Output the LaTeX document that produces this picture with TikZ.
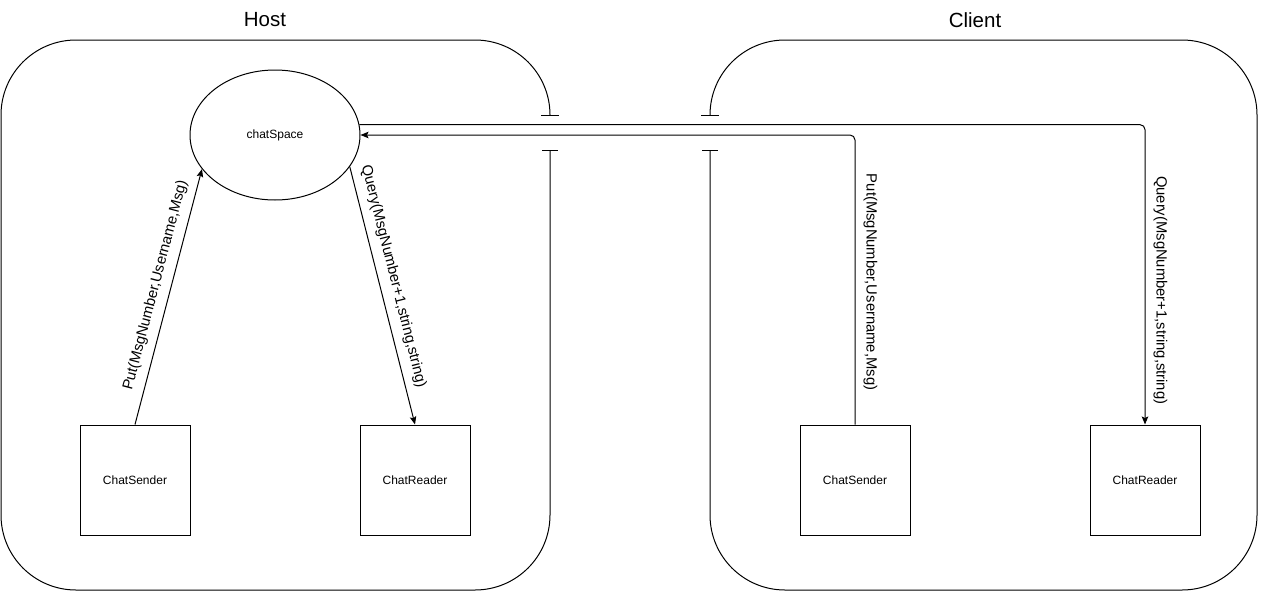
\documentclass[tikz,border=0pt]{standalone}
\usepackage{fontspec}
\setmainfont{Liberation Sans}
\usetikzlibrary{arrows.meta,shapes.geometric}
\begin{document}
\begin{tikzpicture}[x=1pt,y=-1pt, line width=1pt,
  box/.style={draw, minimum width=110pt, minimum height=110pt, inner sep=0pt, font=\fontsize{12}{14}\selectfont},
  space/.style={draw, ellipse, minimum width=170pt, minimum height=130pt, inner sep=0pt, font=\fontsize{12}{14}\selectfont},
  arr/.style={-{Stealth[length=8pt,width=6.5pt,inset=1.5pt]}},
  lbl/.style={font=\fontsize{14.8}{16}\selectfont, inner sep=8pt},
  title/.style={font=\fontsize{20.5}{24}\selectfont, inner sep=0pt},
  frame/.style={rounded corners=75pt},
  ortho/.style={rounded corners=5pt}
]
\useasboundingbox (0,0) rectangle (1261,592);

% containers
\draw[frame] (550,115) -- (550,40) -- (1,40) -- (1,590) -- (550,590) -- (550,150);
\draw[frame] (710,115) -- (710,40) -- (1257,40) -- (1257,590) -- (710,590) -- (710,150);
\draw (541,115) -- (559,115);
\draw (542,150) -- (558,150);
\draw (701,115) -- (719,115);
\draw (702,150) -- (718,150);

\node[title] (hostT) at (265,20) {Host};
\node[title] (clientT) at (975,20) {Client};

% nodes
\node[space] (cs) at (275,135) {chatSpace};
\node[box] (send1) at (135,480) {ChatSender};
\node[box] (read1) at (415,480) {ChatReader};
\node[box] (send2) at (855,480) {ChatSender};
\node[box] (read2) at (1145,480) {ChatReader};

% connectors
\draw[arr] (send1.north) -- node[lbl, sloped, pos=0.53, anchor=south] (l1) {Put(MsgNumber,Username,Msg)} (cs.205);
\draw[arr] (cs.-23) -- node[lbl, sloped, pos=0.44, anchor=south] (l2) {Query(MsgNumber+1,string,string)} (read1.north);
\draw[arr, ortho] (send2.north) |- node[lbl, pos=0.246, rotate=-90, anchor=south] (l3) {Put(MsgNumber,Username,Msg)} (cs.east);
\draw[arr, ortho] (cs.7.5) -| node[lbl, pos=0.776, rotate=-90, anchor=south] (l4) {Query(MsgNumber+1,string,string)} (read2.north);
\end{tikzpicture}
\end{document}
